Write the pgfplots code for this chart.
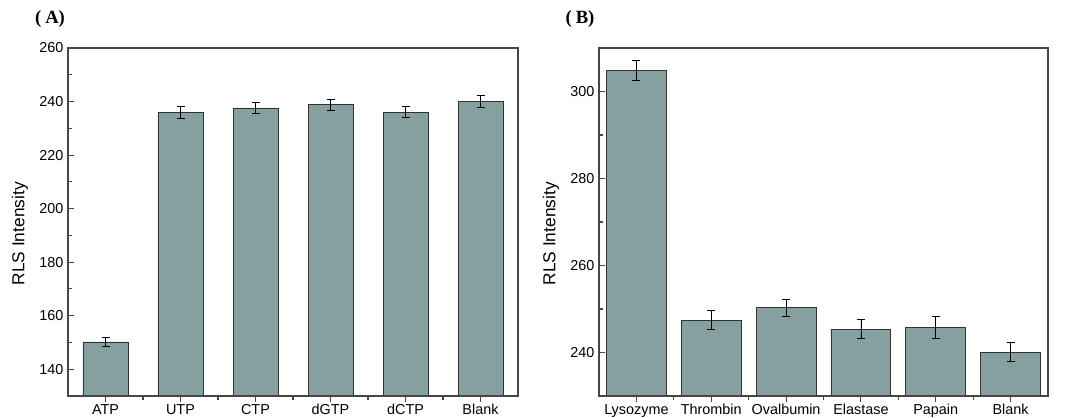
\documentclass[border=0pt]{standalone}
\usepackage{fontspec}
\setmainfont{Liberation Sans}
\newfontfamily\serifpanel{Liberation Serif}
\usepackage{pgfplots}
\pgfplotsset{compat=1.18}
\definecolor{barfill}{RGB}{133,160,158}
\definecolor{barline}{RGB}{50,50,50}
\definecolor{axline}{RGB}{70,70,70}

\pgfplotsset{
  rlsbar/.style={
    scale only axis,
    width=337.5pt, height=261pt,
    xmin=-0.5, xmax=5.5,
    xtick={0,...,5},
    minor xtick={0.5,1.5,...,4.5},
    tick align=inside,
    tick pos=left,
    axis on top,
    major tick length=4.5pt,
    minor tick length=3pt,
    axis line style={axline, line width=0.9pt},
    tick style={axline, line width=0.8pt},
    /pgf/number format/assume math mode=true,
    tick label style={font=\fontsize{10.8}{12}\selectfont},
    xticklabel style={inner sep=0.5pt, yshift=-1pt},
    ylabel={RLS Intensity},
    ylabel style={font=\fontsize{13}{15}\selectfont, at={(axis description cs:-0.107,0.466)}, anchor=center},
    ybar,
  },
  rlsplot/.style={
    fill=barfill, draw=barline, line width=0.6pt,
    error bars/.cd, y dir=both, y explicit,
    error bar style={black, line width=0.6pt},
    error mark options={rotate=90, mark size=3pt, black, line width=0.6pt},
  },
}

\begin{document}
\begin{tikzpicture}
\useasboundingbox (0,0) rectangle (804pt,313.5pt);

% panel A
\begin{axis}[rlsbar,
    at={(51pt,16.5pt)}, anchor=south west,
    ymin=130, ymax=260,
    ytick={140,160,...,260},
    minor ytick={150,170,...,250},
    bar width=0.6,
    xticklabels={ATP,UTP,CTP,dGTP,dCTP,Blank},
]
\addplot[rlsplot] coordinates {
    (0,150.2) +- (0,1.8)
    (1,236.0) +- (0,2.3)
    (2,237.6) +- (0,2.2)
    (3,238.8) +- (0,2.1)
    (4,236.0) +- (0,2.1)
    (5,240.0) +- (0,2.2)
};
\end{axis}

% panel B
\begin{axis}[rlsbar,
    at={(449.25pt,16.5pt)}, anchor=south west,
    width=336.75pt,
    ymin=230, ymax=310,
    ytick={240,260,280,300},
    minor ytick={250,270,290},
    bar width=0.8,
    xticklabels={Lysozyme,Thrombin,Ovalbumin,Elastase,Papain,Blank},
]
\addplot[rlsplot] coordinates {
    (0,304.9) +- (0,2.3)
    (1,247.4) +- (0,2.2)
    (2,250.3) +- (0,2.0)
    (3,245.4) +- (0,2.2)
    (4,245.8) +- (0,2.5)
    (5,240.1) +- (0,2.2)
};
\end{axis}

\node[font=\serifpanel\bfseries\fontsize{14}{16}\selectfont] at (37.5pt,299pt) {(\hspace{3pt}A)};
\node[font=\serifpanel\bfseries\fontsize{14}{16}\selectfont] at (435pt,299pt) {(\hspace{3pt}B)};
\end{tikzpicture}
\end{document}
